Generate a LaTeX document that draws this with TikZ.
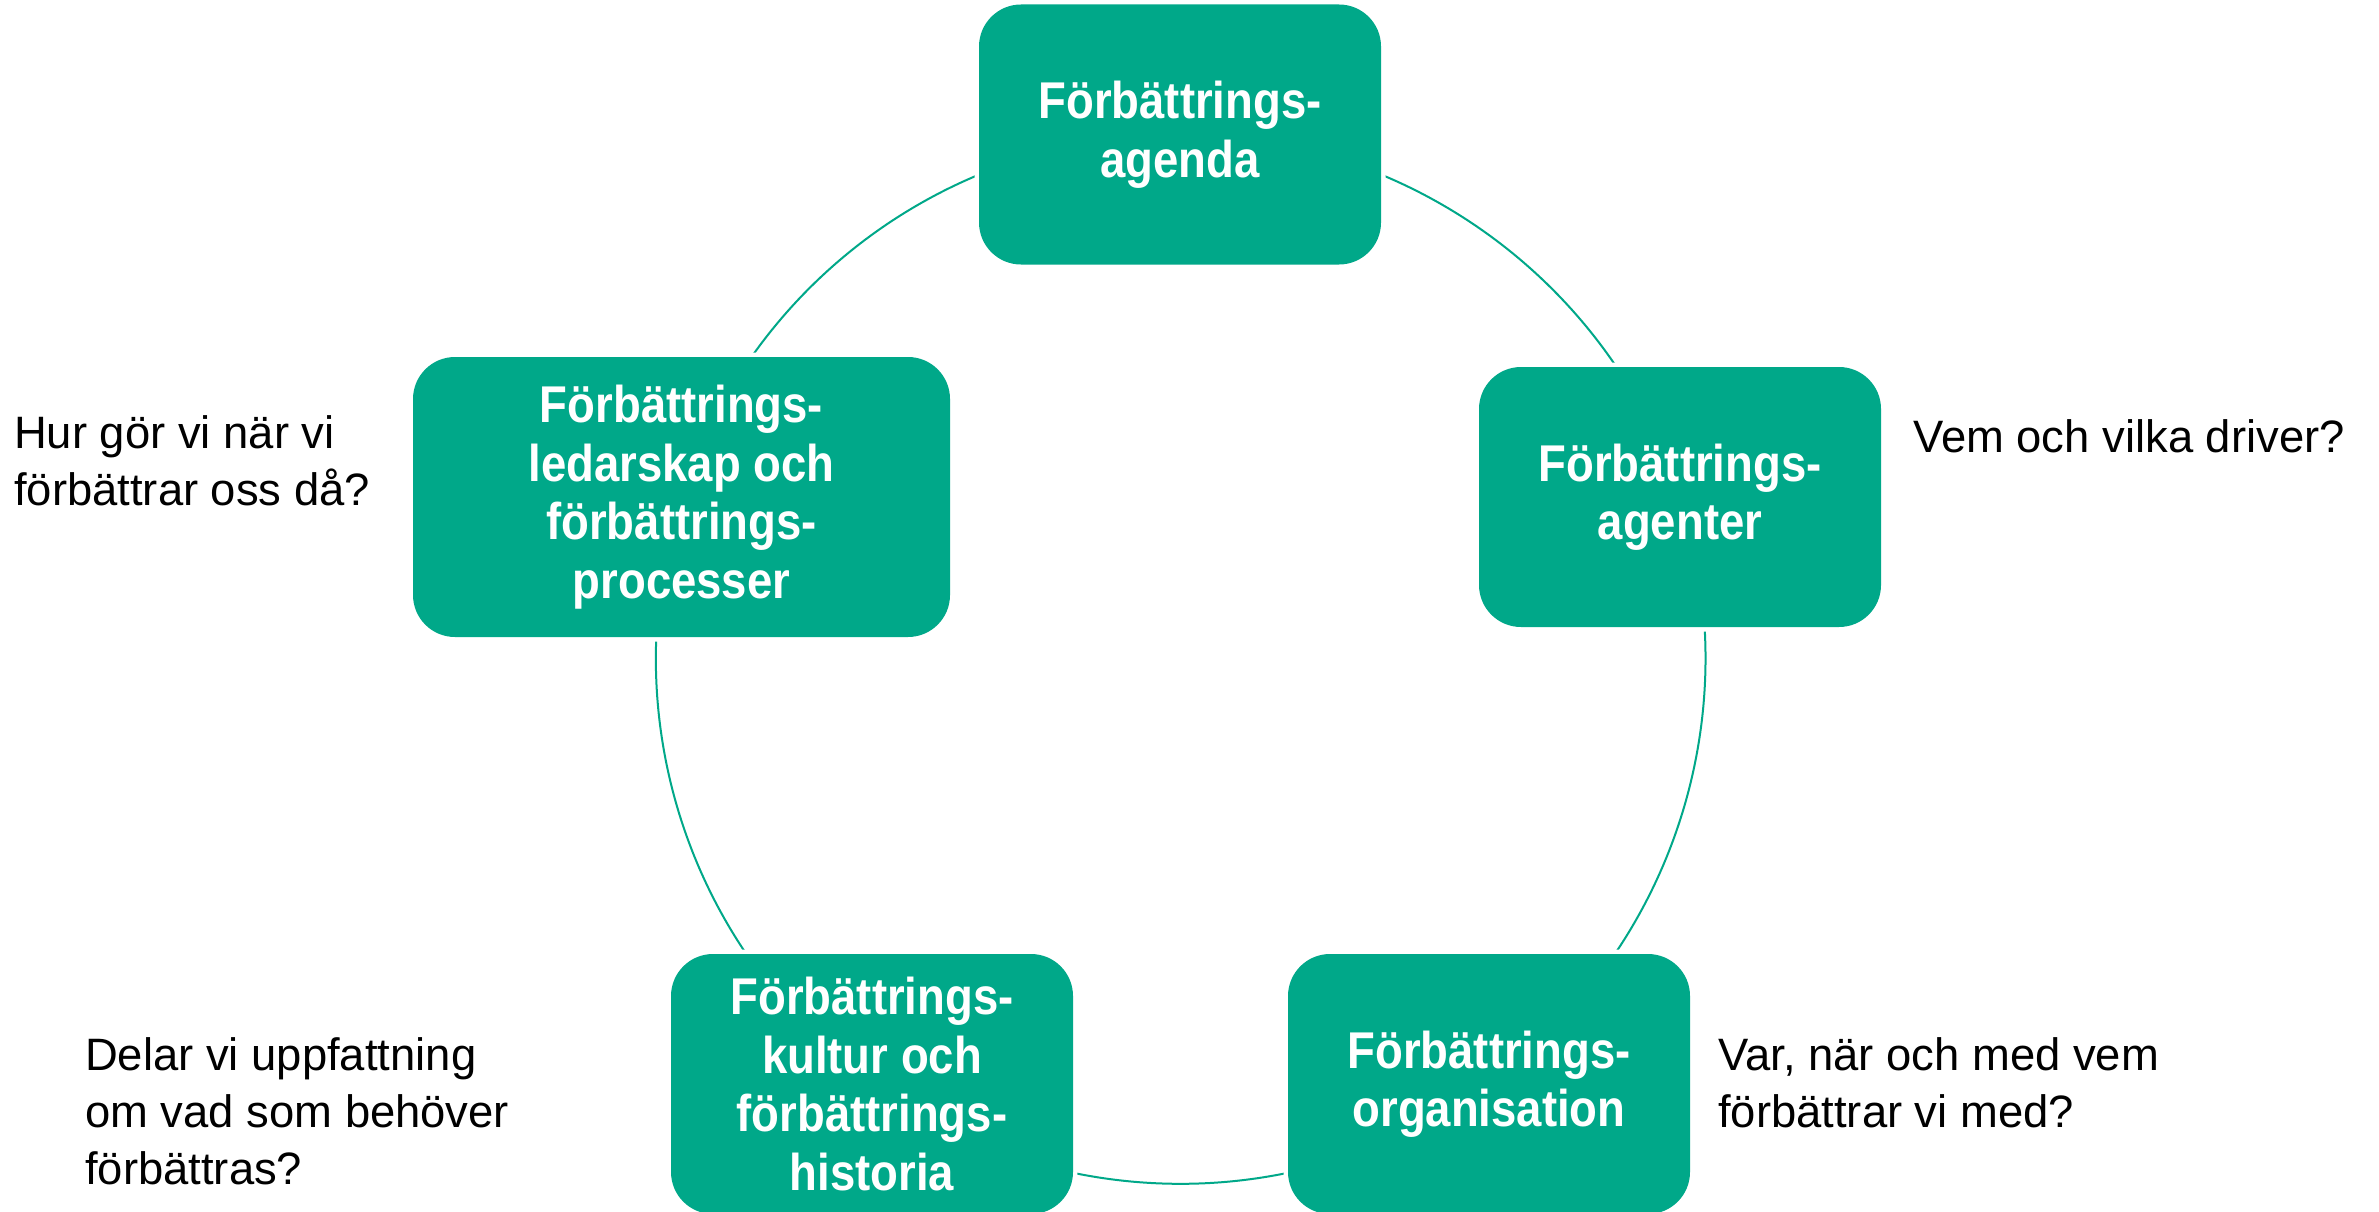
\documentclass[tikz,border=0pt]{standalone}
\usepackage{fontspec}
\setmainfont{Liberation Sans}
\newfontfamily\boxff[FakeStretch=0.88]{Liberation Sans}
\usetikzlibrary{backgrounds}
\definecolor{tealfill}{RGB}{0,168,137}
\tikzset{
  stepbox/.style={rounded corners=42pt, fill=tealfill, text=white,
    font=\boxff\bfseries\fontsize{51.7}{58.5}\selectfont, align=center,
    inner sep=0pt, minimum width=402pt, minimum height=260pt,
    preaction={draw=white, line width=9pt}},
  qtext/.style={font=\fontsize{45.4}{57}\selectfont, align=left,
    inner sep=0pt, anchor=base west, text=black},
  cyclearc/.style={draw=tealfill, line width=2pt},
}
\begin{document}
\begin{tikzpicture}[x=1pt,y=1pt]
\useasboundingbox (0,0) rectangle (2379,-1212);
\node[stepbox] (agenda) at (1180,-134.5) {Förbättrings-\\agenda};
\node[stepbox] (agenter) at (1680,-497) {Förbättrings-\\agenter};
\node[stepbox] (org) at (1489,-1084) {Förbättrings-\\organisation};
\node[stepbox] (kultur) at (872,-1084) {Förbättrings-\\kultur och\\förbättrings-\\historia};
\node[stepbox, minimum width=537pt, minimum height=280pt] (ledar) at (681.5,-497) {Förbättrings-\\ledarskap och\\förbättrings-\\processer};
\begin{scope}[on background layer]
\fill[white] (0,0) rectangle (2379,-1212);
\draw[cyclearc] (agenda.center) to[bend left=36, looseness=0.941] (agenter.center);
\draw[cyclearc] (agenter.center) to[bend left=36, looseness=0.941] (org.center);
\draw[cyclearc] (org.center) to[bend left=36, looseness=0.941] (kultur.center);
\draw[cyclearc] (kultur.center) to[bend left=36, looseness=0.941] (ledar.center);
\draw[cyclearc] (ledar.center) to[bend left=36, looseness=0.941] (agenda.center);
\end{scope}
\node[qtext] (q1) at (14,-505) {Hur gör vi när vi\\förbättrar oss då?};
\node[qtext] (q2) at (1913,-452) {Vem och vilka driver?};
\node[qtext] (q3) at (1718,-1127) {Var, när och med vem\\förbättrar vi med?};
\node[qtext] (q4) at (85,-1184) {Delar vi uppfattning\\om vad som behöver\\förbättras?};
\end{tikzpicture}
\end{document}
